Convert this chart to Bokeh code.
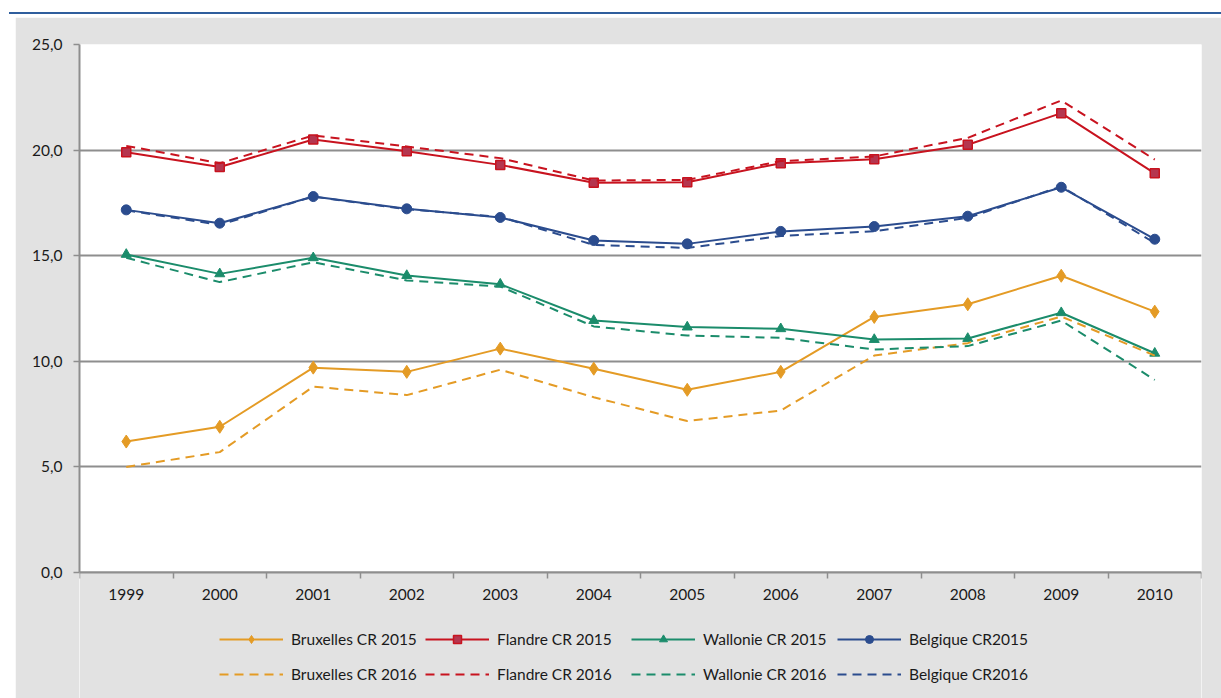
from bokeh.plotting import figure
from bokeh.models import (Range1d, LinearAxis, FixedTicker, BoxAnnotation,
                          Legend, LegendItem, Div, Spacer)
from bokeh.layouts import column, row
from bokeh.embed import file_html
from bokeh.resources import INLINE

# ---------------- data ----------------
years = ["1999", "2000", "2001", "2002", "2003", "2004", "2005", "2006", "2007", "2008", "2009", "2010"]

bxl_2015 = [6.2, 6.9, 9.7, 9.5, 10.6, 9.65, 8.65, 9.5, 12.1, 12.7, 14.05, 12.35]
fla_2015 = [19.9, 19.2, 20.5, 19.95, 19.3, 18.45, 18.48, 19.38, 19.57, 20.25, 21.75, 18.9]
wal_2015 = [15.06, 14.14, 14.9, 14.06, 13.65, 11.93, 11.62, 11.54, 11.03, 11.08, 12.3, 10.38]
bel_2015 = [17.17, 16.54, 17.8, 17.22, 16.81, 15.72, 15.56, 16.15, 16.38, 16.87, 18.24, 15.78]

bxl_2016 = [5.0, 5.7, 8.8, 8.4, 9.6, 8.3, 7.17, 7.67, 10.27, 10.86, 12.12, 10.27]
fla_2016 = [20.2, 19.38, 20.69, 20.17, 19.62, 18.56, 18.59, 19.48, 19.7, 20.58, 22.35, 19.55]
wal_2016 = [14.9, 13.75, 14.69, 13.83, 13.54, 11.65, 11.22, 11.11, 10.56, 10.72, 11.93, 9.12]
bel_2016 = [17.15, 16.46, 17.8, 17.2, 16.84, 15.51, 15.37, 15.93, 16.16, 16.79, 18.28, 15.6]

labels_2015 = ["Bruxelles CR 2015", "Flandre CR 2015", "Wallonie CR 2015", "Belgique CR2015"]
labels_2016 = ["Bruxelles CR 2016", "Flandre CR 2016", "Wallonie CR 2016", "Belgique CR2016"]

y_ticks = [0, 5, 10, 15, 20, 25]
y_tick_labels = ["0,0", "5,0", "10,0", "15,0", "20,0", "25,0"]

# category slots: centre of slot i is i + 0.5
n = len(years)
xc = [i + 0.5 for i in range(n)]

# ---------------- style ----------------
FONT = "Lato"
FS = "15.5px"
TXT = "#1a1a1a"
GRID = "#8e8e8e"
BG = "#e2e2e2"
COL_BXL = "#E49B25"
COL_FLA = "#C8131F"
COL_WAL = "#1B8C6B"
COL_BEL = "#2B4C8E"

FIG_W, FIG_H = 1206, 681
TOP, PLOT_H, BELOW = 27, 528, 126          # pixels: frame top border, 0..25 area, legend zone
y_bottom = -BELOW * 25 / PLOT_H             # frame extends below 0 to host the legend

p = figure(width=FIG_W, height=FIG_H,
           x_range=Range1d(0, n), y_range=Range1d(y_bottom, 25),
           output_backend="svg", toolbar_location=None,
           x_axis_location=None, y_axis_location="left",
           min_border_left=64, min_border_right=20,
           min_border_top=TOP, min_border_bottom=0)
p.background_fill_color = "white"
p.border_fill_color = BG
p.outline_line_color = None

# grey zone below the plot area (legend zone)
p.add_layout(BoxAnnotation(top=0, fill_color=BG, fill_alpha=1.0,
                           line_color=None, level="underlay"))

# y axis
p.yaxis.ticker = FixedTicker(ticks=y_ticks, minor_ticks=[])
p.yaxis.bounds = (0, 25)
p.yaxis.major_label_overrides = {t: l for t, l in zip(y_ticks, y_tick_labels)}
p.yaxis.axis_line_color = GRID
p.yaxis.axis_line_width = 2
p.yaxis.major_tick_line_color = GRID
p.yaxis.major_tick_line_width = 1.5
p.yaxis.major_tick_out = 6
p.yaxis.major_tick_in = 0
p.yaxis.minor_tick_line_color = None
p.yaxis.major_label_standoff = 11
p.yaxis.major_label_text_font = FONT
p.yaxis.major_label_text_font_size = FS
p.yaxis.major_label_text_color = TXT

p.ygrid.ticker = FixedTicker(ticks=y_ticks, minor_ticks=[])
p.ygrid.grid_line_color = GRID
p.ygrid.grid_line_width = 2
p.xgrid.visible = False

# x axis at y=0: boundary ticks (no labels) + category labels at slot centres
ax_ticks = LinearAxis(fixed_location=0,
                      ticker=FixedTicker(ticks=list(range(n + 1)), minor_ticks=[]),
                      major_label_text_font_size="0px", major_label_standoff=0,
                      axis_line_color=GRID, axis_line_width=2,
                      major_tick_line_color=GRID, major_tick_line_width=1.5,
                      major_tick_out=6, major_tick_in=0,
                      minor_tick_line_color=None)
ax_ticks.major_label_overrides = {i: "" for i in range(n + 1)}
p.add_layout(ax_ticks, "below")

ax_cat = LinearAxis(fixed_location=0,
                    ticker=FixedTicker(ticks=xc, minor_ticks=[]),
                    axis_line_color=None, major_tick_line_color=None,
                    minor_tick_line_color=None,
                    major_tick_out=0, major_tick_in=0,
                    major_label_standoff=16,
                    major_label_text_font=FONT,
                    major_label_text_font_size=FS,
                    major_label_text_color=TXT)
ax_cat.major_label_overrides = {x: y for x, y in zip(xc, years)}
p.add_layout(ax_cat, "below")

# ---------------- series ----------------
DASH = "9 6"
r = {}
r["bxl15_l"] = p.line(xc, bxl_2015, line_color=COL_BXL, line_width=2)
r["bxl15_m"] = p.scatter(xc, bxl_2015, marker="diamond", size=13,
                         fill_color=COL_BXL, line_color=COL_BXL, line_width=1)
r["fla15_l"] = p.line(xc, fla_2015, line_color=COL_FLA, line_width=2)
r["fla15_m"] = p.scatter(xc, fla_2015, marker="square", size=9,
                         fill_color="#B5364F", line_color=COL_FLA, line_width=1.5)
r["wal15_l"] = p.line(xc, wal_2015, line_color=COL_WAL, line_width=2)
r["wal15_m"] = p.scatter(xc, wal_2015, marker="triangle", size=10,
                         fill_color=COL_WAL, line_color=COL_WAL, line_width=1)
r["bel15_l"] = p.line(xc, bel_2015, line_color=COL_BEL, line_width=2)
r["bel15_m"] = p.scatter(xc, bel_2015, marker="circle", size=10,
                         fill_color=COL_BEL, line_color=COL_BEL, line_width=1)

r["bxl16"] = p.line(xc, bxl_2016, line_color=COL_BXL, line_width=2, line_dash=DASH)
r["fla16"] = p.line(xc, fla_2016, line_color=COL_FLA, line_width=2, line_dash=DASH)
r["wal16"] = p.line(xc, wal_2016, line_color=COL_WAL, line_width=2, line_dash=DASH)
r["bel16"] = p.line(xc, bel_2016, line_color=COL_BEL, line_width=2, line_dash=DASH)

items_2015 = [
    LegendItem(label=labels_2015[0], renderers=[r["bxl15_l"], r["bxl15_m"]]),
    LegendItem(label=labels_2015[1], renderers=[r["fla15_l"], r["fla15_m"]]),
    LegendItem(label=labels_2015[2], renderers=[r["wal15_l"], r["wal15_m"]]),
    LegendItem(label=labels_2015[3], renderers=[r["bel15_l"], r["bel15_m"]]),
]
items_2016 = [
    LegendItem(label=labels_2016[0], renderers=[r["bxl16"]]),
    LegendItem(label=labels_2016[1], renderers=[r["fla16"]]),
    LegendItem(label=labels_2016[2], renderers=[r["wal16"]]),
    LegendItem(label=labels_2016[3], renderers=[r["bel16"]]),
]


def make_legend(items, loc):
    return Legend(items=items, orientation="horizontal", location=loc,
                  glyph_width=64, glyph_height=20, label_height=20,
                  label_standoff=8, label_width=134, spacing=0,
                  padding=0, margin=0, border_line_color=None,
                  background_fill_alpha=0,
                  label_text_font=FONT, label_text_font_size=FS,
                  label_text_color=TXT)


p.add_layout(make_legend(items_2015, (140, 49)))
p.add_layout(make_legend(items_2016, (140, 14)))

# thin blue rule above the chart
top_rule = Div(text="", width=1212, height=2, margin=(12, 0, 3, 9),
               styles={"background-color": "#2f5e9d"})

layout = column(top_rule, row(Spacer(width=15, height=FIG_H), p))

open("out.html", "w").write(file_html(layout, INLINE))
